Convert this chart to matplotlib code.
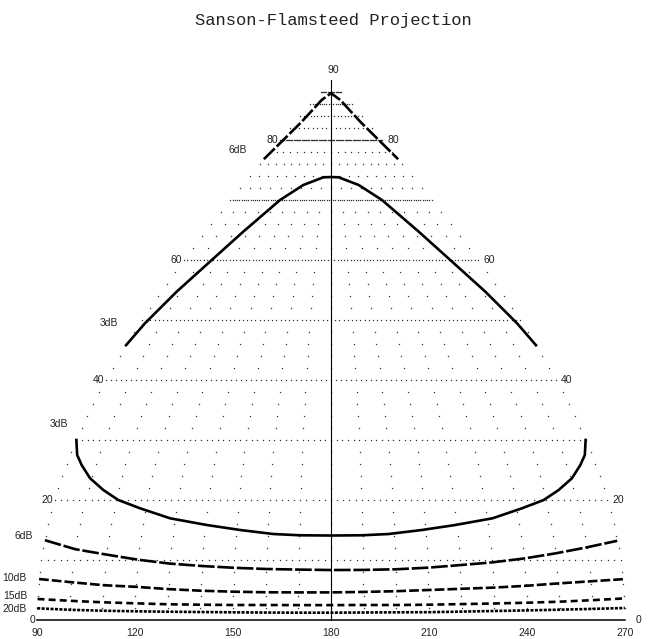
import numpy as np
import matplotlib.pyplot as plt

plt.rcParams['lines.scale_dashes'] = False

# Contour data: (longitude, latitude) in degrees
top6_lon = [90, 95.9, 106, 131, 180, 229, 254, 264.1, 270]
top6_lat = [76.8, 80, 83.05, 86.67, 87.8, 86.67, 83.05, 80, 76.8]

up3_lon = [90, 92.4, 98.2, 107, 117.1, 134.4, 151.8, 171.6, 180,
           188.4, 208.2, 225.6, 242.9, 253, 261.8, 267.6, 270]
up3_lat = [45.8, 49.45, 54.72, 60, 64.72, 70, 72.5, 73.78, 73.83,
           73.78, 72.5, 70, 64.72, 60, 54.72, 49.45, 45.8]

lo3_lon = [90, 92.4, 95.2, 99.5, 105, 110.7, 118.3, 128.5, 140.5, 151.2, 161.8, 170.2, 180,
           189.8, 198.2, 208.8, 219.5, 231.7, 241.7, 249.3, 255, 260.5, 264.8, 267.6, 270]
lo3_lat = [30, 27.5, 25.83, 23.62, 21.67, 20, 18.62, 16.95, 15.83, 15, 14.33, 14.12, 14.08,
           14.12, 14.33, 15, 15.83, 16.95, 18.62, 20, 21.67, 23.62, 25.83, 27.5, 30]

lon_steps = list(range(90, 271, 10))
low6_lat = [13.3, 11.8, 10.9, 10.05, 9.4, 9.0, 8.7, 8.5, 8.4, 8.33,
            8.35, 8.45, 8.72, 9.15, 9.6, 10.25, 11.1, 12.1, 13.2]
low10_lat = [6.83, 6.3, 5.8, 5.53, 5.15, 4.88, 4.72, 4.62, 4.6, 4.6,
             4.68, 4.8, 5.0, 5.2, 5.4, 5.7, 6.1, 6.45, 6.8]
low15_lat = [3.5, 3.2, 2.95, 2.78, 2.62, 2.55, 2.5, 2.5, 2.48, 2.48,
             2.5, 2.5, 2.55, 2.65, 2.75, 2.88, 3.05, 3.3, 3.6]
low20_lat = [1.95, 1.7, 1.55, 1.45, 1.38, 1.33, 1.28, 1.24, 1.22, 1.22,
             1.25, 1.28, 1.3, 1.4, 1.5, 1.6, 1.72, 1.85, 2.0]

lat_labels = [20, 40, 60, 80]
lon_ticks = [90, 120, 150, 180, 210, 240, 270]

# dB labels (projected x, latitude)
db_text = ['6dB', '3dB', '3dB', '6dB', '10dB', '15dB', '20dB']
db_x = [151.5, 111.9, 96.7, 86.0, 83.1, 83.3, 83.0]
db_y = [78.3, 49.5, 32.7, 14.0, 7.0, 4.0, 1.83]


def proj(lon, lat):
    lon = np.asarray(lon, float)
    lat = np.asarray(lat, float)
    return 180 + (lon - 180) * np.cos(np.radians(lat)), lat


fig = plt.figure(figsize=(6.5, 6.39), dpi=100)
ax = fig.add_axes([37 / 650, 19 / 639, 588 / 650, 540 / 639])
ax.set_xlim(90, 270)
ax.set_ylim(0, 90)
ax.axis('off')

lab_font = dict(family='Liberation Sans', fontsize=7.5, color='#222')

# graticule dots: sparse meridian dots every 2 deg, dense parallels every 10 deg
gx, gy = [], []
for lat in range(2, 90, 2):
    step = 2 if lat % 10 == 0 else 10
    lons = np.arange(90, 271, step)
    x, y = proj(lons, np.full(len(lons), lat))
    gx.extend(x)
    gy.extend(y)
ax.plot(gx, gy, ls='none', marker='s', ms=0.9, mew=0, color='#333', clip_on=False)

# equator and central meridian
ax.plot([90, 270], [0, 0], color='black', lw=1.1, clip_on=False)
ax.plot([180, 180], [0, 90], color='black', lw=0.8, clip_on=False)

# contours
x, y = proj(top6_lon, top6_lat)
ax.plot(x, y, color='black', lw=1.9, dashes=(11, 2), clip_on=False)
x, y = proj(up3_lon, up3_lat)
ax.plot(x, y, color='black', lw=1.9, clip_on=False)
x, y = proj(lo3_lon, lo3_lat)
ax.plot(x, y, color='black', lw=1.9, clip_on=False)
x, y = proj(lon_steps, low6_lat)
ax.plot(x, y, color='black', lw=1.9, dashes=(12, 2), clip_on=False)
x, y = proj(lon_steps, low10_lat)
ax.plot(x, y, color='black', lw=1.9, dashes=(7, 2.2), clip_on=False)
x, y = proj(lon_steps, low15_lat)
ax.plot(x, y, color='black', lw=1.9, dashes=(5, 3), clip_on=False)
x, y = proj(lon_steps, low20_lat)
ax.plot(x, y, color='black', lw=1.9, dashes=(2.2, 1), clip_on=False)

# latitude labels
for lat in lat_labels:
    xl, _ = proj(90, lat)
    xr, _ = proj(270, lat)
    ax.annotate(str(lat), xy=(xl, lat), xytext=(-2, 0), textcoords='offset pixels',
                ha='right', va='center', **lab_font)
    ax.annotate(str(lat), xy=(xr, lat), xytext=(5, 0), textcoords='offset pixels',
                ha='left', va='center', **lab_font)
ax.annotate('0', xy=(90, 0), xytext=(-2, 0), textcoords='offset pixels',
            ha='right', va='center', **lab_font)
ax.annotate('0', xy=(270, 0), xytext=(11, 0), textcoords='offset pixels',
            ha='left', va='center', **lab_font)
ax.annotate('90', xy=(180, 90), xytext=(2, 10), textcoords='offset pixels',
            ha='center', va='center', **lab_font)

# longitude labels
for lon in lon_ticks:
    ax.annotate(str(lon), xy=(lon, 0), xytext=(0, -8), textcoords='offset pixels',
                ha='center', va='top', **lab_font)

# dB labels
for t, xx, yy in zip(db_text, db_x, db_y):
    ax.text(xx, yy, t, ha='center', va='center', **lab_font)

fig.text(333 / 650, 1 - 21 / 639, 'Sanson-Flamsteed Projection', ha='center', va='center',
         family='Liberation Mono', fontsize=12.3, color='#222')

fig.savefig('out.png', dpi=100, facecolor='white')
